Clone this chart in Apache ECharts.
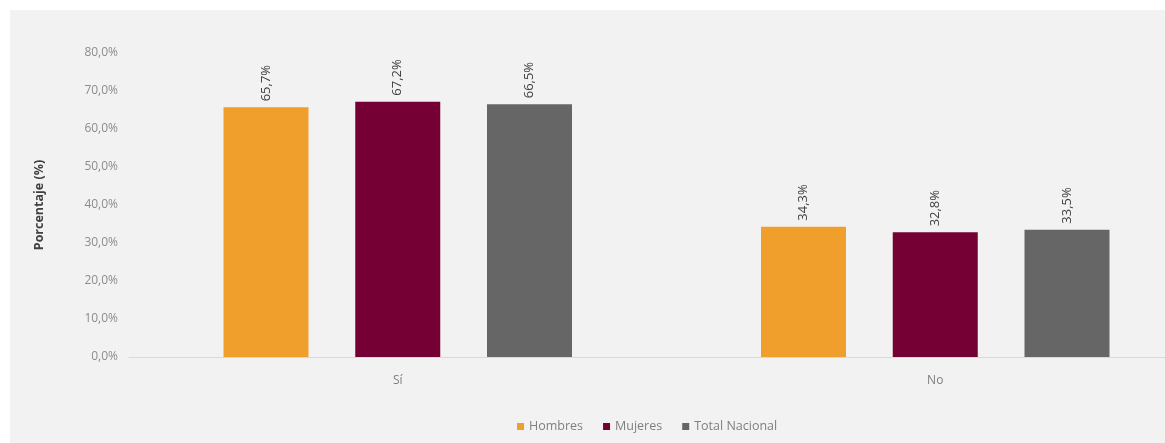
<!DOCTYPE html>
<html>
<head>
<meta charset="utf-8">
<script src="https://cdn.jsdelivr.net/npm/echarts@6/dist/echarts.min.js"></script>
<style>
html,body{margin:0;padding:0;background:#ffffff;overflow:hidden;}
#c{width:1215px;height:443px;}
</style>
</head>
<body>
<div id="c"></div>
<script>
const categories = ['Sí', 'No'];
const hombres = [65.7, 34.3];
const mujeres = [67.2, 32.8];
const totalNacional = [66.5, 33.5];
const seriesNames = ['Hombres', 'Mujeres', 'Total Nacional'];
const yTicks = [0, 10, 20, 30, 40, 50, 60, 70, 80];

const fmt = v => v.toFixed(1).replace('.', ',') + '%';
const FONT = '"Open Sans", "Liberation Sans", sans-serif';

const chart = echarts.init(document.getElementById('c'), null, {renderer: 'canvas'});
const labelCfg = {
  show: true,
  position: 'top',
  rotate: 90,
  align: 'left',
  verticalAlign: 'middle',
  distance: 6,
  color: '#404040',
  fontSize: 13,
  fontFamily: FONT,
  formatter: p => fmt(p.value)
};
function mk(name, data, color) {
  return {
    name: name, type: 'bar', data: data,
    barWidth: 85, barGap: '55%',
    itemStyle: {color: color},
    label: labelCfg
  };
}
chart.setOption({
  backgroundColor: '#ffffff',
  animation: false,
  graphic: [{
    type: 'rect', z: -10, silent: true,
    shape: {x: 10, y: 10, width: 1210, height: 440},
    style: {fill: '#f2f2f2'}
  }],
  grid: {left: 129, top: 53, width: 1075, height: 304, containLabel: false},
  legend: {
    top: 415, left: 512, itemWidth: 7, itemHeight: 7, itemGap: 20,
    icon: 'rect',
    textStyle: {color: '#7f7f7f', fontSize: 12.5, fontFamily: FONT},
    data: seriesNames
  },
  xAxis: {
    type: 'category', data: categories,
    axisLine: {lineStyle: {color: '#d9d9d9'}},
    axisTick: {show: false},
    axisLabel: {color: '#7f7f7f', fontSize: 12, fontFamily: FONT, margin: 18}
  },
  yAxis: {
    type: 'value', min: yTicks[0], max: yTicks[yTicks.length - 1], interval: 10,
    name: 'Porcentaje (%)', nameLocation: 'middle', nameGap: 83, nameRotate: 90,
    nameTextStyle: {color: '#404040', fontSize: 12.5, fontWeight: 'bold', fontFamily: FONT},
    axisLine: {show: false}, axisTick: {show: false},
    splitLine: {show: false},
    axisLabel: {color: '#8c8c8c', fontSize: 12, fontFamily: FONT, margin: 11, formatter: v => fmt(v)}
  },
  series: [
    mk(seriesNames[0], hombres, '#f09f2d'),
    mk(seriesNames[1], mujeres, '#750033'),
    mk(seriesNames[2], totalNacional, '#666666')
  ]
});
</script>
</body>
</html>
